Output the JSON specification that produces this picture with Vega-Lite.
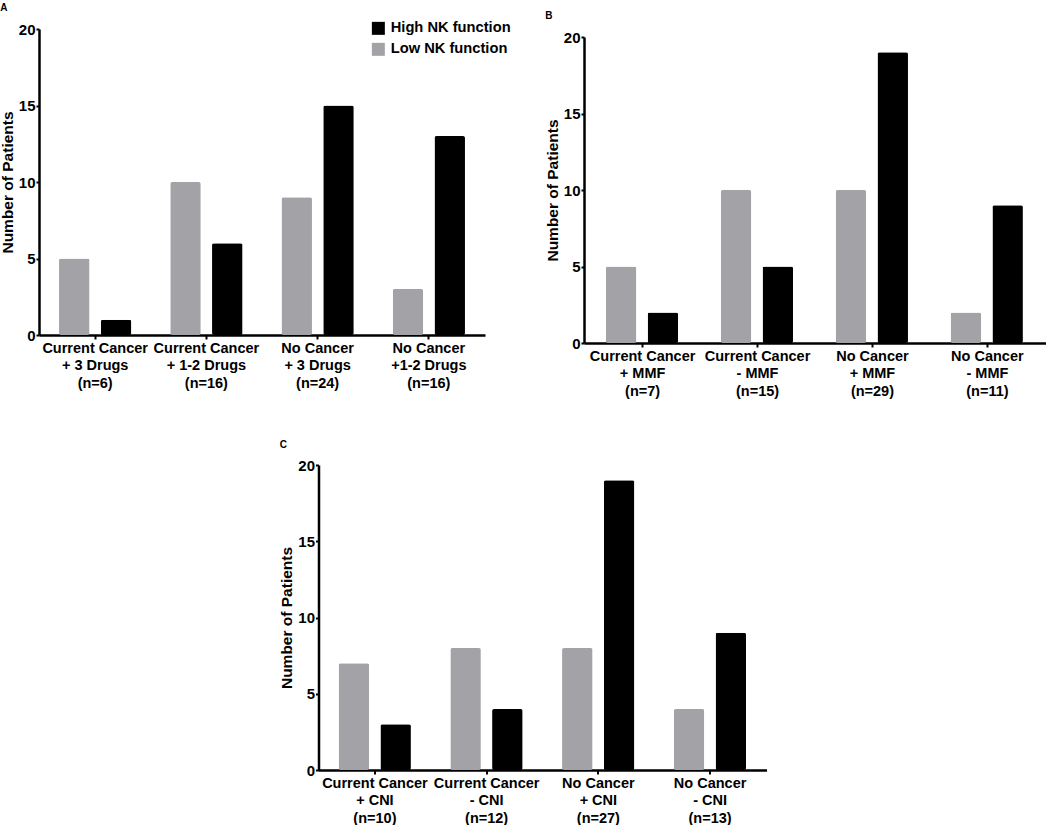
{
  "$schema": "https://vega.github.io/schema/vega-lite/v6.json",
  "padding": {"left": 0, "top": 3, "right": 0, "bottom": 0},
  "background": "white",
  "config": {
    "font": "Liberation Sans",
    "view": {"stroke": null},
    "axis": {
      "domainColor": "black", "domainWidth": 2.5,
      "tickColor": "black", "tickWidth": 2,
      "labelColor": "black", "labelFontWeight": "bold", "labelFont": "Liberation Sans",
      "titleColor": "black", "titleFontWeight": "bold", "titleFont": "Liberation Sans",
      "grid": false
    },
    "title": {"fontSize": 10, "fontWeight": "bold", "anchor": "start", "frame": "bounds", "color": "black"}
  },
  "datasets": {
    "a": [
      {"group": "Current Cancer|+ 3 Drugs|(n=6)", "nk": "Low NK function", "patients": 5},
      {"group": "Current Cancer|+ 3 Drugs|(n=6)", "nk": "High NK function", "patients": 1},
      {"group": "Current Cancer|+ 1-2 Drugs|(n=16)", "nk": "Low NK function", "patients": 10},
      {"group": "Current Cancer|+ 1-2 Drugs|(n=16)", "nk": "High NK function", "patients": 6},
      {"group": "No Cancer|+ 3 Drugs|(n=24)", "nk": "Low NK function", "patients": 9},
      {"group": "No Cancer|+ 3 Drugs|(n=24)", "nk": "High NK function", "patients": 15},
      {"group": "No Cancer|+1-2 Drugs|(n=16)", "nk": "Low NK function", "patients": 3},
      {"group": "No Cancer|+1-2 Drugs|(n=16)", "nk": "High NK function", "patients": 13}
    ],
    "b": [
      {"group": "Current Cancer|+ MMF|(n=7)", "nk": "Low NK function", "patients": 5},
      {"group": "Current Cancer|+ MMF|(n=7)", "nk": "High NK function", "patients": 2},
      {"group": "Current Cancer|- MMF|(n=15)", "nk": "Low NK function", "patients": 10},
      {"group": "Current Cancer|- MMF|(n=15)", "nk": "High NK function", "patients": 5},
      {"group": "No Cancer|+ MMF|(n=29)", "nk": "Low NK function", "patients": 10},
      {"group": "No Cancer|+ MMF|(n=29)", "nk": "High NK function", "patients": 19},
      {"group": "No Cancer|- MMF|(n=11)", "nk": "Low NK function", "patients": 2},
      {"group": "No Cancer|- MMF|(n=11)", "nk": "High NK function", "patients": 9}
    ],
    "c": [
      {"group": "Current Cancer|+ CNI|(n=10)", "nk": "Low NK function", "patients": 7},
      {"group": "Current Cancer|+ CNI|(n=10)", "nk": "High NK function", "patients": 3},
      {"group": "Current Cancer|- CNI|(n=12)", "nk": "Low NK function", "patients": 8},
      {"group": "Current Cancer|- CNI|(n=12)", "nk": "High NK function", "patients": 4},
      {"group": "No Cancer|+ CNI|(n=27)", "nk": "Low NK function", "patients": 8},
      {"group": "No Cancer|+ CNI|(n=27)", "nk": "High NK function", "patients": 19},
      {"group": "No Cancer|- CNI|(n=13)", "nk": "Low NK function", "patients": 4},
      {"group": "No Cancer|- CNI|(n=13)", "nk": "High NK function", "patients": 9}
    ]
  },
  "resolve": {"scale": {"color": "independent"}, "legend": {"color": "independent"}},
  "center": true,
  "spacing": 42,
  "vconcat": [
    {
      "spacing": 34,
      "resolve": {"scale": {"color": "independent"}, "legend": {"color": "independent"}},
      "hconcat": [
        {
          "width": 446, "height": 306,
          "title": {"text": "A", "offset": 8},
          "data": {"name": "a"},
          "mark": {"type": "bar", "cornerRadius": 2},
          "encoding": {
            "x": {"field": "group", "type": "nominal", "sort": null, "title": null,
              "scale": {"paddingInner": 0.35, "paddingOuter": 0.18},
              "axis": {"labelExpr": "split(datum.label, '|')", "labelAngle": 0, "labelFontSize": 14.5, "labelLineHeight": 17.5, "tickSize": 4, "labelPadding": 2}},
            "xOffset": {"field": "nk", "type": "nominal", "sort": ["Low NK function", "High NK function"], "scale": {"paddingInner": 0.27}},
            "y": {"field": "patients", "type": "quantitative", "title": "Number of Patients",
              "scale": {"domain": [0, 20]},
              "axis": {"values": [0, 5, 10, 15, 20], "labelFontSize": 15, "titleFontSize": 15.5, "tickSize": 3, "labelPadding": 1, "titlePadding": 3}},
            "color": {"field": "nk", "type": "nominal",
              "scale": {"domain": ["High NK function", "Low NK function"], "range": ["#000000", "#a3a3a7"]},
              "legend": {"title": null, "orient": "none", "legendX": 332, "legendY": -8, "labelFontSize": 14.7, "labelFontWeight": "bold", "labelColor": "black", "symbolType": "square", "symbolSize": 169, "symbolStrokeWidth": 0, "labelOffset": 5, "rowPadding": 5}}
          }
        },
        {
          "width": 462, "height": 314,
          "title": {"text": "B", "offset": 8},
          "data": {"name": "b"},
          "mark": {"type": "bar", "cornerRadius": 2},
          "encoding": {
            "x": {"field": "group", "type": "nominal", "sort": null, "title": null,
              "scale": {"paddingInner": 0.36, "paddingOuter": 0.19},
              "axis": {"labelExpr": "split(datum.label, '|')", "labelAngle": 0, "labelFontSize": 14.5, "labelLineHeight": 17.5, "tickSize": 4, "labelPadding": 2}},
            "xOffset": {"field": "nk", "type": "nominal", "sort": ["Low NK function", "High NK function"], "scale": {"paddingInner": 0.27}},
            "y": {"field": "patients", "type": "quantitative", "title": "Number of Patients",
              "scale": {"domain": [0, 20], "range": [314, 8]},
              "axis": {"values": [0, 5, 10, 15, 20], "labelFontSize": 15, "titleFontSize": 15.5, "tickSize": 3, "labelPadding": 1, "titlePadding": 3}},
            "color": {"field": "nk", "type": "nominal",
              "scale": {"domain": ["High NK function", "Low NK function"], "range": ["#000000", "#a3a3a7"]},
              "legend": null}
          }
        }
      ]
    },
    {
      "width": 448, "height": 305,
      "title": {"text": "C", "offset": 8},
      "data": {"name": "c"},
      "mark": {"type": "bar", "cornerRadius": 2},
      "encoding": {
        "x": {"field": "group", "type": "nominal", "sort": null, "title": null,
          "scale": {"paddingInner": 0.35, "paddingOuter": 0.18},
          "axis": {"labelExpr": "split(datum.label, '|')", "labelAngle": 0, "labelFontSize": 14.5, "labelLineHeight": 17.5, "tickSize": 4, "labelPadding": 2}},
        "xOffset": {"field": "nk", "type": "nominal", "sort": ["Low NK function", "High NK function"], "scale": {"paddingInner": 0.27}},
        "y": {"field": "patients", "type": "quantitative", "title": "Number of Patients",
          "scale": {"domain": [0, 20]},
          "axis": {"values": [0, 5, 10, 15, 20], "labelFontSize": 15, "titleFontSize": 15.5, "tickSize": 3, "labelPadding": 1, "titlePadding": 3}},
        "color": {"field": "nk", "type": "nominal",
          "scale": {"domain": ["High NK function", "Low NK function"], "range": ["#000000", "#a3a3a7"]},
          "legend": null}
      }
    }
  ]
}
